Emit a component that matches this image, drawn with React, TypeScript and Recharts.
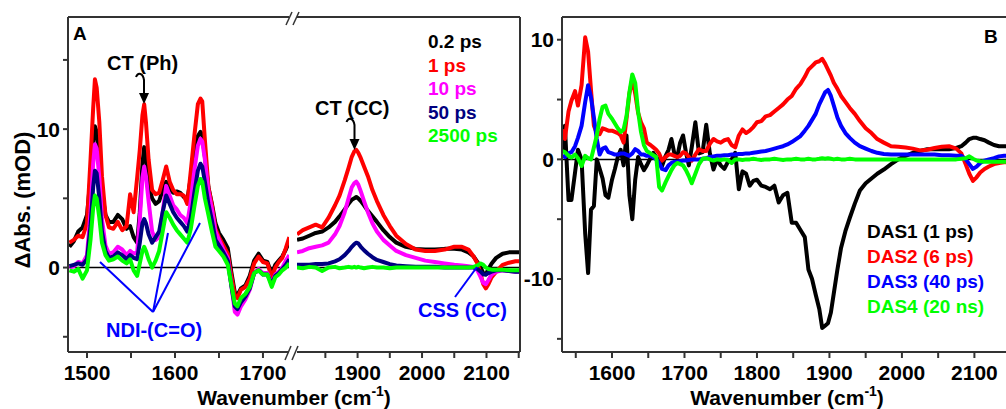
import React from 'react';
import { LineChart, Line, XAxis, YAxis, ReferenceLine } from 'recharts';

const FONT = '"Liberation Sans", Arial, Helvetica, sans-serif';

// ---- panel A, left piece of the broken axis (cm-1) ----
const wnA1 = [
  1480, 1485, 1490, 1495, 1500, 1504, 1507, 1509, 1511, 1514,
  1517, 1521, 1525, 1530, 1535, 1540, 1545, 1549, 1553, 1557,
  1560, 1563, 1565, 1567, 1570, 1574, 1578, 1582, 1586, 1590,
  1594, 1598, 1602, 1606, 1610, 1614, 1618, 1622, 1626, 1629,
  1631, 1634, 1638, 1642, 1646, 1650, 1655, 1660, 1664, 1668,
  1671, 1675, 1680, 1685, 1690, 1695, 1700, 1705, 1710, 1714,
  1718, 1722, 1726, 1730,
];
const ps02A1 = [
  1.5, 1.9, 2.6, 2.9, 3.8, 6.5, 9.0, 10.2, 9.8, 8.0,
  5.5, 3.8, 3.3, 3.3, 3.8, 3.5, 2.8, 3.0, 2.2, 1.8,
  4.0, 7.5, 8.7, 8.0, 6.0, 5.0, 4.6, 4.8, 5.6, 6.2,
  5.7, 5.4, 5.5, 5.4, 5.1, 4.9, 6.5, 8.2, 9.5, 9.8,
  9.6, 8.0, 5.8, 4.6, 3.2, 2.5, 2.0, 1.4, -0.3, -1.8,
  -2.0, -1.5, -1.3, -0.6, 0.5, 1.0, 0.5, 0.4, -0.5, 0.2,
  0.5, 0.8, 1.3, 1.9,
];
const ps1A1 = [
  1.8, 2.0, 2.3, 2.2, 3.2, 7.8, 11.5, 13.6, 13.0, 10.5,
  6.6, 3.8, 2.9, 2.8, 3.3, 2.7, 3.0, 5.3, 4.0, 6.5,
  8.5, 11.0, 11.8, 10.5, 7.8, 5.6, 5.3, 5.4, 6.3, 7.3,
  6.2, 5.6, 5.3, 5.3, 5.2, 4.6, 7.0, 9.5, 11.8, 12.2,
  12.0, 9.2, 5.8, 4.5, 2.8, 2.2, 1.6, 1.0, -0.6, -2.0,
  -2.2, -1.6, -1.4, -0.8, 0.3, 0.8, 0.4, 0.3, -0.7, 0.0,
  0.4, 0.7, 1.4, 2.2,
];
const ps10A1 = [
  0.0, 0.1, 0.4, 0.3, 0.9, 4.0, 7.5, 8.9, 8.6, 6.5,
  3.5, 1.6, 1.0, 1.1, 1.5, 1.3, 0.9, 1.2, 1.0, 1.1,
  3.5, 6.5, 7.3, 6.6, 4.8, 2.6, 2.0, 2.2, 4.0, 5.9,
  5.2, 4.5, 4.2, 3.8, 3.6, 3.2, 4.8, 7.0, 8.8, 9.3,
  9.1, 7.8, 5.5, 4.2, 2.6, 2.0, 1.3, 0.7, -1.2, -3.2,
  -3.4, -2.8, -2.3, -1.6, -0.4, -0.1, -0.4, -0.4, -1.2, -0.5,
  -0.3, 0.0, 0.5, 0.9,
];
const ps50A1 = [
  0.1, 0.2, 0.3, 0.2, 0.6, 3.0, 5.8, 7.0, 6.8, 5.0,
  2.6, 1.2, 0.7, 0.8, 1.1, 0.9, 0.6, 0.9, 0.7, 0.6,
  1.8, 3.2, 3.5, 3.2, 2.4, 1.8, 2.2, 2.6, 4.0, 5.2,
  4.6, 4.0, 3.6, 3.3, 3.0, 2.6, 3.6, 5.4, 7.0, 7.5,
  7.3, 6.2, 4.6, 3.4, 2.0, 1.6, 1.1, 0.5, -1.3, -2.8,
  -3.0, -2.5, -2.1, -1.5, -0.4, -0.2, -0.5, -0.5, -1.2, -0.6,
  -0.4, -0.1, 0.2, 0.6,
];
const ps2500A1 = [
  -0.2, -0.3, -0.1, -0.8, -0.2, 2.0, 4.3, 5.2, 5.0, 3.6,
  1.8, 0.9, 0.5, 0.6, 0.8, 0.5, 0.3, 0.6, -0.2, -0.6,
  0.3, 1.2, 1.5, 1.2, 0.6, 0.0, 0.5, 1.2, 2.6, 4.0,
  3.6, 3.1, 2.7, 2.4, 2.1, 1.8, 2.8, 4.4, 5.9, 6.4,
  6.2, 5.0, 3.8, 2.6, 1.5, 1.2, 0.8, 0.2, -1.2, -2.6,
  -2.8, -2.2, -1.9, -1.4, -0.4, -0.2, -0.5, -0.5, -1.4, -0.7,
  -0.5, -0.2, 0.0, 0.3,
];

// ---- panel A, right piece of the broken axis ----
const wnA2 = [
  1806, 1815, 1825, 1835, 1845, 1855, 1865, 1872, 1880, 1886,
  1891, 1895, 1898, 1901, 1905, 1910, 1916, 1923, 1930, 1940,
  1950, 1960, 1975, 1990, 2005, 2020, 2035, 2050, 2062, 2072,
  2080, 2086, 2091, 2095, 2099, 2103, 2108, 2115, 2125, 2135,
  2145, 2151,
];
const ps02A2 = [
  2.0, 2.1, 2.3, 2.5, 2.6, 2.9, 3.3, 3.7, 4.2, 4.6,
  4.9, 5.0, 5.1, 5.0, 4.8, 4.5, 4.1, 3.7, 3.3, 2.7,
  2.2, 1.8, 1.5, 1.35, 1.3, 1.3, 1.35, 1.35, 1.3, 1.1,
  0.8, 0.4, 0.0, -0.4, -0.5, -0.1, 0.3, 0.7, 1.0, 1.1,
  1.1, 1.1,
];
const ps1A2 = [
  2.4, 2.7, 2.9, 3.1, 2.9, 3.6, 4.5, 5.2, 6.3, 7.2,
  8.0, 8.4, 8.5, 8.3, 7.9, 7.3, 6.6, 5.6, 4.8, 3.8,
  3.0, 2.3, 1.7, 1.3, 1.2, 1.2, 1.3, 1.5, 1.5, 1.3,
  0.8, 0.3, -0.5, -1.2, -1.5, -1.2, -0.7, -0.3, 0.2, 0.35,
  0.45, 0.45,
];
const ps10A2 = [
  1.1, 1.2, 1.4, 1.5, 1.6, 1.8, 2.4, 3.0, 4.0, 5.0,
  5.8, 6.1, 6.2, 6.0, 5.5, 4.8, 4.0, 3.2, 2.6, 2.0,
  1.6, 1.2, 0.9, 0.7, 0.5, 0.4, 0.3, 0.2, 0.15, 0.1,
  0.05, -0.2, -0.7, -1.1, -1.2, -0.9, -0.5, -0.3, -0.2, -0.25,
  -0.3, -0.3,
];
const ps50A2 = [
  0.2, 0.2, 0.2, 0.25, 0.25, 0.3, 0.45, 0.6, 0.9, 1.2,
  1.5, 1.7, 1.8, 1.75, 1.5, 1.25, 1.0, 0.75, 0.55, 0.4,
  0.25, 0.15, 0.1, 0.05, 0.05, 0.05, 0.0, 0.0, 0.0, 0.0,
  0.0, -0.1, -0.3, -0.5, -0.5, -0.4, -0.3, -0.2, -0.2, -0.25,
  -0.3, -0.3,
];
const ps2500A2 = [
  0.0, -0.05, 0.05, 0.0, -0.25, 0.0, 0.05, -0.05, 0.0, 0.05,
  0.0, 0.05, 0.0, 0.05, 0.0, -0.05, 0.0, 0.05, 0.0, 0.0,
  -0.05, 0.0, 0.0, 0.0, 0.0, 0.0, 0.0, 0.0, 0.0, 0.0,
  0.05, 0.15, 0.3, 0.2, 0.0, -0.1, -0.15, -0.15, -0.15, -0.2,
  -0.2, -0.2,
];

// ---- panel B, decay associated spectra ----
const wnB = [
  1531, 1535, 1540, 1544, 1549, 1553, 1558, 1563, 1567, 1571,
  1575, 1579, 1583, 1587, 1591, 1595, 1600, 1604, 1608, 1612,
  1616, 1620, 1624, 1628, 1632, 1636, 1640, 1644, 1648, 1653,
  1657, 1661, 1665, 1669, 1674, 1678, 1682, 1686, 1690, 1694,
  1698, 1702, 1706, 1710, 1715, 1720, 1725, 1730, 1735, 1740,
  1745, 1750, 1755, 1760, 1765, 1770, 1775, 1780, 1785, 1790,
  1795, 1800, 1806, 1812, 1818, 1824, 1830, 1836, 1842, 1848,
  1854, 1860, 1866, 1871, 1876, 1881, 1886, 1890, 1894, 1898,
  1902, 1906, 1911, 1916, 1922, 1928, 1935, 1942, 1950, 1958,
  1966, 1975, 1985, 1995, 2005, 2015, 2025, 2035, 2045, 2055,
  2065, 2075, 2082, 2088, 2093, 2098, 2103, 2108, 2114, 2120,
  2127, 2134, 2141, 2150,
];
const das1 = [
  0.8, 2.8, -3.4, -3.4, -1.1, 0.8, 0.0, -6.2, -9.5, -4.2,
  -3.9, 0.0, -0.8, -1.6, -3.0, -3.2, -1.7, -0.8, 0.2, 0.8,
  -0.5, 2.0, -3.0, -5.0, -1.7, 0.2, -0.4, -0.9, -0.5, 0.1,
  0.55, 0.2, -0.1, -0.55, 0.3, 0.8, 1.7, 0.5, 0.2, 1.4,
  2.0, 0.6, -0.5, 1.0, 3.1, 0.5, 0.6, 2.9, 0.5, -0.85,
  0.0, -0.5, -0.8, -0.2, 0.0, 0.55, -2.5, -1.0, -1.2, -2.2,
  -1.8, -1.7, -2.2, -2.3, -2.5, -2.2, -3.6, -3.0, -2.8, -5.3,
  -5.3, -5.9, -6.5, -9.2, -10.0, -11.3, -12.5, -14.1, -13.9, -13.7,
  -12.8, -11.2, -9.2, -7.4, -6.0, -4.9, -3.7, -2.6, -2.0, -1.6,
  -1.2, -0.85, -0.4, 0.0, 0.3, 0.55, 0.7, 0.85, 0.85, 0.85,
  0.85, 0.95, 1.1, 1.4, 1.7, 1.8, 1.8, 1.7, 1.6, 1.4,
  1.2, 1.1, 1.1, 1.1,
];
const das2 = [
  2.5, 1.7, 4.0, 4.9, 5.7, 4.5, 6.2, 10.2, 9.0, 5.8,
  2.8, 2.2, 2.1, 2.6, 2.5, 2.4, 2.4, 2.3, 2.2, 2.0,
  1.4, 3.4, 5.5, 6.7, 5.5, 3.9, 3.1, 2.6, 1.4, 1.2,
  1.0, 0.8, 0.5, -0.1, 0.2, 0.4, 0.4, 0.3, 0.2, 0.3,
  0.6, 0.5, 0.2, -0.1, 0.4, 0.85, 0.7, 0.7, 1.3, 1.7,
  1.5, 1.4, 1.6, 1.7, 1.2, 1.0, 2.0, 2.5, 2.2, 2.4,
  2.7, 3.1, 3.2, 3.6, 3.7, 4.0, 4.3, 4.6, 5.0, 5.3,
  5.9, 6.3, 6.9, 7.5, 7.8, 8.1, 8.2, 8.4, 8.0, 7.5,
  7.0, 6.4, 5.9, 5.3, 4.8, 4.3, 3.8, 3.2, 2.6, 2.2,
  1.7, 1.4, 1.1, 1.05, 1.0, 0.9, 0.75, 0.8, 0.95, 1.05,
  1.1, 0.9, 0.5, -0.4, -1.2, -1.8, -1.5, -1.1, -0.8, -0.6,
  -0.4, -0.3, -0.25, -0.2,
];
const das3 = [
  0.3, 0.2, 0.5, 0.6, 1.1, 1.8, 2.8, 4.8, 6.2, 5.2,
  3.5, 1.7, 0.4, 0.9, 1.0, 0.6, 0.5, 0.4, 0.4, 0.5,
  0.5, 0.4, 0.3, 0.5, 0.85, 0.7, 0.4, 0.4, 0.3, 0.3,
  0.2, 0.0, -0.3, -0.8, -0.9, -0.5, -0.3, -0.2, -0.2, -0.15,
  -0.1, -0.1, -0.05, 0.0, 0.0, 0.0, 0.05, 0.1, 0.2, 0.25,
  0.3, 0.3, 0.35, 0.35, 0.4, 0.4, 0.45, 0.45, 0.5, 0.5,
  0.55, 0.6, 0.65, 0.7, 0.8, 0.9, 1.0, 1.1, 1.25, 1.45,
  1.7, 1.95, 2.4, 2.8, 3.3, 3.8, 4.6, 5.1, 5.6, 5.8,
  5.3, 4.5, 3.5, 2.8, 2.2, 1.8, 1.4, 1.1, 0.9, 0.7,
  0.55, 0.45, 0.4, 0.4, 0.4, 0.4, 0.4, 0.4, 0.4, 0.35,
  0.35, 0.3, 0.3, 0.0, -0.4, -0.8, -0.6, -0.3, -0.1, 0.0,
  0.1, 0.25, 0.3, 0.3,
];
const das4 = [
  0.7, 0.6, 0.3, 0.15, 0.4, 0.1, -0.55, 0.3, 0.1, 0.0,
  1.0, 2.0, 3.4, 4.4, 4.5, 3.8, 3.4, 3.0, 2.6, 2.3,
  2.5, 3.6, 5.6, 7.1, 6.4, 4.0, 2.3, 1.2, 0.7, 0.5,
  0.35, 0.2, -2.3, -2.6, -1.9, -1.4, -0.9, -0.5, -0.3, -0.4,
  -0.5, -0.9, -1.4, -2.0, -1.2, -0.4, 0.05, 0.1, 0.0, -0.1,
  0.0, -0.05, 0.0, -0.05, -0.3, 0.0, 0.0, -0.05, 0.0, 0.0,
  0.05, 0.0, -0.05, 0.0, 0.0, 0.05, 0.0, -0.05, 0.0, 0.0,
  0.05, 0.0, 0.0, 0.05, 0.0, 0.0, 0.05, 0.1, 0.05, 0.1,
  0.05, 0.0, 0.05, 0.0, 0.0, 0.05, 0.0, 0.0, 0.0, 0.0,
  0.0, 0.0, 0.0, 0.0, 0.0, 0.0, 0.0, 0.0, 0.0, 0.0,
  0.0, 0.0, 0.05, 0.1, 0.25, 0.05, -0.1, -0.15, -0.2, -0.2,
  -0.2, -0.2, -0.2, -0.2,
];

// ticks
const xTicksA1 = [1500, 1550, 1600, 1650, 1700];
const xTicksA2 = [1850, 1900, 1950, 2000, 2050, 2100, 2150];
const xTicksB = [1550, 1600, 1650, 1700, 1750, 1800, 1850, 1900, 1950, 2000, 2050, 2100, 2150];
const yTicksA = [-5, 0, 5, 10, 15];
const yTicksB = [-15, -10, -5, 0, 5, 10];

const seriesA = [
  { key: 't02', name: '0.2 ps', color: '#000000' },
  { key: 't1', name: '1 ps', color: '#ff0000' },
  { key: 't10', name: '10 ps', color: '#ff00ff' },
  { key: 't50', name: '50 ps', color: '#000080' },
  { key: 't2500', name: '2500 ps', color: '#00ff00' },
];
const seriesB = [
  { key: 'd1', name: 'DAS1 (1 ps)', color: '#000000' },
  { key: 'd2', name: 'DAS2 (6 ps)', color: '#ff0000' },
  { key: 'd3', name: 'DAS3 (40 ps)', color: '#0000ff' },
  { key: 'd4', name: 'DAS4 (20 ns)', color: '#00ff00' },
];

const rowsA1 = wnA1.map((wn, i) => ({
  wn, t02: ps02A1[i], t1: ps1A1[i], t10: ps10A1[i], t50: ps50A1[i], t2500: ps2500A1[i],
}));
const rowsA2 = wnA2.map((wn, i) => ({
  wn, t02: ps02A2[i], t1: ps1A2[i], t10: ps10A2[i], t50: ps50A2[i], t2500: ps2500A2[i],
}));
const rowsB = wnB.map((wn, i) => ({ wn, d1: das1[i], d2: das2[i], d3: das3[i], d4: das4[i] }));

const tickStyle = { fill: '#000', fontSize: 21, fontWeight: 700, fontFamily: FONT };
const axisStyle = { stroke: '#333', strokeWidth: 2 };
const hundreds = (v: number) => (v % 100 === 0 ? String(v) : '');
const tens = (v: number) => (v % 10 === 0 ? String(v) : '');

const drawLines = (series: { key: string; color: string }[]) =>
  series.map((s) => (
    <Line
      key={s.key}
      dataKey={s.key}
      type="linear"
      stroke={s.color}
      strokeWidth={4}
      strokeLinejoin="round"
      dot={false}
      activeDot={false}
      isAnimationActive={false}
    />
  ));

const domA1: [number, number] = [1478.4, 1729.6];
const domA2: [number, number] = [1806, 2152];
const domB: [number, number] = [1531, 2150.5];
const yDomA: [number, number] = [-6.1, 18.1];
const yDomB: [number, number] = [-16.1, 11.9];

// mirrored top/right axes: tick marks point into the plot, no labels
const topAxis = (dom: [number, number], ticks: number[]) => (
  <XAxis xAxisId="top" orientation="top" dataKey="wn" type="number" domain={dom}
    ticks={ticks} interval={0} tick={false} tickSize={5} mirror height={1}
    axisLine={axisStyle} tickLine={axisStyle} allowDataOverflow />
);

export default function App() {
  return (
    <div
      style={{
        position: 'absolute', left: 0, top: 0, width: 1006, height: 409,
        overflow: 'hidden', background: '#fff', fontFamily: FONT,
      }}
    >
      {/* panel A, left piece */}
      <div style={{ position: 'absolute', left: 0, top: 0 }}>
        <LineChart width={290} height={409} data={rowsA1} margin={{ top: 17, right: 1, bottom: 0, left: 0 }}>
          <XAxis dataKey="wn" type="number" domain={domA1} ticks={xTicksA1} interval={0}
            tickFormatter={hundreds} tick={tickStyle} tickSize={6} tickMargin={7} height={57}
            axisLine={axisStyle} tickLine={axisStyle} allowDataOverflow />
          {topAxis(domA1, xTicksA1)}
          <YAxis type="number" domain={yDomA} ticks={yTicksA} interval={0} tickFormatter={tens}
            tick={tickStyle} tickSize={5} tickMargin={3} width={68}
            axisLine={axisStyle} tickLine={axisStyle} allowDataOverflow />
          <ReferenceLine y={0} stroke="#000" strokeWidth={1.5} />
          {drawLines(seriesA)}
        </LineChart>
      </div>

      {/* panel A, right piece */}
      <div style={{ position: 'absolute', left: 290, top: 0 }}>
        <LineChart width={236} height={409} data={rowsA2} margin={{ top: 17, right: 6, bottom: 0, left: 7 }}>
          <XAxis dataKey="wn" type="number" domain={domA2} ticks={xTicksA2} interval={0}
            tickFormatter={hundreds} tick={tickStyle} tickSize={6} tickMargin={7} height={57}
            axisLine={axisStyle} tickLine={axisStyle} allowDataOverflow />
          {topAxis(domA2, xTicksA2)}
          <YAxis orientation="right" type="number" domain={yDomA} ticks={yTicksA} interval={0}
            tick={false} tickSize={5} mirror width={1}
            axisLine={axisStyle} tickLine={axisStyle} allowDataOverflow />
          <ReferenceLine y={0} stroke="#000" strokeWidth={1.5} />
          {drawLines(seriesA)}
        </LineChart>
      </div>

      {/* panel B */}
      <div style={{ position: 'absolute', left: 494, top: 0 }}>
        <LineChart width={600} height={409} data={rowsB} margin={{ top: 17, right: 83, bottom: 0, left: 0 }}>
          <XAxis dataKey="wn" type="number" domain={domB} ticks={xTicksB} interval={0}
            tickFormatter={hundreds} tick={tickStyle} tickSize={6} tickMargin={7} height={57}
            axisLine={axisStyle} tickLine={axisStyle} allowDataOverflow />
          {topAxis(domB, xTicksB)}
          <YAxis type="number" domain={yDomB} ticks={yTicksB} interval={0} tickFormatter={tens}
            tick={tickStyle} tickSize={5} tickMargin={3} width={68}
            axisLine={axisStyle} tickLine={axisStyle} allowDataOverflow />
          <YAxis yAxisId="r" orientation="right" type="number" domain={yDomB} ticks={yTicksB}
            interval={0} tick={false} tickSize={5} mirror width={1}
            axisLine={axisStyle} tickLine={axisStyle} allowDataOverflow />
          <ReferenceLine y={0} stroke="#000" strokeWidth={1.5} />
          {drawLines(seriesB)}
        </LineChart>
      </div>

      {/* annotations */}
      <svg width={1006} height={409} style={{ position: 'absolute', left: 0, top: 0, pointerEvents: 'none' }}
        fontFamily={FONT} fontWeight={700}>
        <text x={73} y={40} fontSize={19}>A</text>
        <text x={984} y={43} fontSize={19}>B</text>

        <text transform="translate(30,200) rotate(-90)" textAnchor="middle" fontSize={22}>ΔAbs. (mOD)</text>

        <text x={294} y={405} textAnchor="middle" fontSize={21}>
          Wavenumber (cm<tspan dy={-9} fontSize={14}>-1</tspan><tspan dy={9}>)</tspan>
        </text>
        <text x={787} y={405} textAnchor="middle" fontSize={21}>
          Wavenumber (cm<tspan dy={-9} fontSize={14}>-1</tspan><tspan dy={9}>)</tspan>
        </text>

        {/* broken axis marks */}
        <g stroke="#333" strokeWidth={1.5}>
          <line x1={286} y1={25} x2={292} y2={12} />
          <line x1={293} y1={25} x2={299} y2={12} />
          <line x1={285} y1={360} x2={291} y2={346} />
          <line x1={292} y1={360} x2={298} y2={346} />
        </g>

        {/* CT labels with curly arrows */}
        <text x={107} y={70} fontSize={20}>CT (Ph)</text>
        <path d="M136,77 C138,72 143,73 144,80 L144,95" stroke="#000" strokeWidth={2} fill="none" />
        <polygon points="139,93 149,93 144,104" fill="#000" />
        <text x={315} y={115} fontSize={20}>CT (CC)</text>
        <path d="M346.5,122 C348.5,117 353.5,118 354.5,125 L354.5,141" stroke="#000" strokeWidth={2} fill="none" />
        <polygon points="349.5,139 359.5,139 354.5,150" fill="#000" />

        {/* NDI and CSS markers */}
        <g stroke="#0000ff" strokeWidth={2}>
          <line x1={153} y1={312} x2={100} y2={262} />
          <line x1={153} y1={312} x2={168} y2={233} />
          <line x1={153} y1={312} x2={200} y2={223} />
          <line x1={455} y1={297} x2={477} y2={267} />
        </g>
        <text x={106} y={337} fontSize={20} fill="#0000ff">NDI-(C=O)</text>
        <text x={418} y={317} fontSize={20} fill="#0000ff">CSS (CC)</text>

        {/* legends */}
        {seriesA.map((s, i) => (
          <text key={s.key} x={428} y={48 + i * 23.6} fontSize={19} fill={s.color}>{s.name}</text>
        ))}
        {seriesB.map((s, i) => (
          <text key={s.key} x={867} y={238 + i * 25} fontSize={19} fill={s.color}>{s.name}</text>
        ))}
      </svg>
    </div>
  );
}
